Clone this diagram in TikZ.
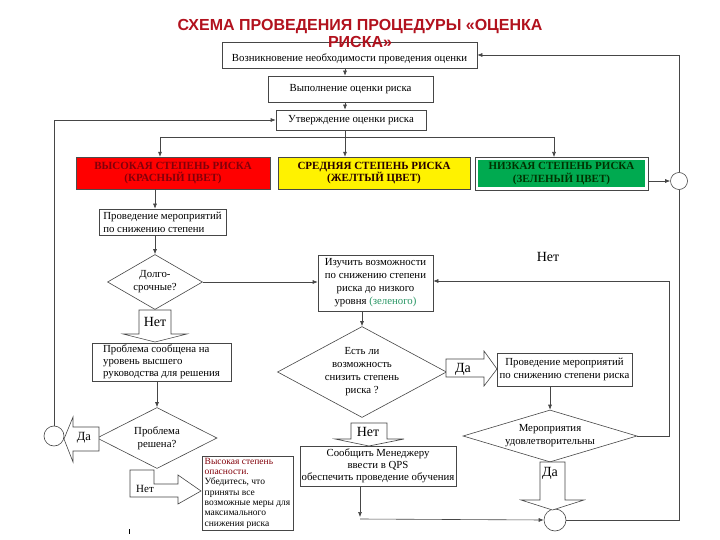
\documentclass[tikz,border=0pt]{standalone}
\usepackage{fontspec}
\setmainfont{Liberation Serif}
\newfontfamily\titlefont{Liberation Sans}
\usetikzlibrary{shapes.geometric,arrows.meta}

\begin{document}
\begin{tikzpicture}[x=1pt,y=-1pt,
  ln/.style={draw=linegray,line width=.6pt},
  arr/.style={ln,-{Latex[length=5pt,width=4pt]}},
  box/.style={ln,fill=white,inner sep=1.5pt,align=center,font=\fontsize{10.8}{13}\selectfont},
  lbox/.style={box,align=left},
  dia/.style={diamond,ln,fill=white,inner sep=0pt,align=center,font=\fontsize{10.8}{13}\selectfont},
  level/.style={inner sep=1pt,align=center,font=\fontsize{11}{12.5}\selectfont\bfseries},
  junc/.style={circle,ln,fill=white,inner sep=0pt},
  barrow/.style={ln,fill=white,line join=miter},
  big/.style={inner sep=0pt,font=\fontsize{14}{14}\selectfont}]
  \definecolor{linegray}{RGB}{70,70,70}%
  \definecolor{titlered}{RGB}{178,18,30}%
  \definecolor{wordgreen}{RGB}{0,170,80}%
  \definecolor{txtred}{RGB}{130,0,10}%
  \definecolor{txtgreen}{RGB}{40,150,100}%
  \useasboundingbox[fill=white] (0,0) rectangle (720,540);

  \node[box,text height=15pt,minimum width=255pt,minimum height=26pt] (b1) at (349.5,55) {Возникновение необходимости проведения оценки};
  \node[box,minimum width=165pt,minimum height=26pt] (b2) at (350.5,89) {Выполнение оценки риска};
  \node[box,minimum width=150pt,minimum height=20pt] (b3) at (351,120) {Утверждение оценки риска};

  \node[level,draw=black!70,fill=red,text=txtred,minimum width=194pt,minimum height=32pt] (red) at (173,173) {ВЫСОКАЯ СТЕПЕНЬ РИСКА\\(КРАСНЫЙ ЦВЕТ)};
  \node[level,draw=linegray,fill=yellow,text=black!85!red,minimum width=192pt,minimum height=32pt] (yel) at (374,173) {СРЕДНЯЯ СТЕПЕНЬ РИСКА\\(ЖЕЛТЫЙ ЦВЕТ)};
  \node[level,draw=white,line width=3pt,fill=wordgreen,text=black!80!green,minimum width=170pt,minimum height=30pt] (grn) at (561.5,173.5) {НИЗКАЯ СТЕПЕНЬ РИСКА\\(ЗЕЛЕНЫЙ ЦВЕТ)};
  \draw[linegray,line width=.6pt] (grn.north west) rectangle (grn.south east);

  \node[lbox,minimum width=127pt,minimum height=26pt] (b4) at (162.5,222) {Проведение мероприятий\\по снижению степени};
  \node[dia,aspect=1.73,minimum width=95pt,minimum height=55pt] (d1) at (155,282) {Долго-\\срочные?};
  \node[box,minimum width=115pt,minimum height=56pt] (b5) at (375.5,283) {Изучить возможности\\по снижению степени\\риска до низкого\\уровня \textcolor{txtgreen}{(зеленого)}};
  \node[lbox,font=\fontsize{10.8}{12}\selectfont,minimum width=139pt,minimum height=38pt] (b8) at (161.5,362) {Проблема сообщена на\\уровень высшего\\руководства для решения};
  \node[dia,aspect=1.86,minimum width=169pt,minimum height=91pt] (d2) at (362,372) {Есть ли\\возможность\\снизить степень\\риска ?};
  \node[box,minimum width=135pt,minimum height=33pt] (b6) at (564.5,369.5) {Проведение мероприятий\\по снижению степени риска};
  \node[dia,aspect=3.35,minimum width=174pt,minimum height=52pt] (d3) at (550,436) {Мероприятия\\удовлетворительны};
  \node[dia,aspect=1.97,minimum width=120pt,minimum height=61pt] (d4) at (157,438) {Проблема\\решена?};
  \node[box,font=\fontsize{10.8}{12}\selectfont,minimum width=156pt,minimum height=40pt] (b7) at (378,466) {Сообщить Менеджеру\\ввести в QPS\\обеспечить проведение обучения};
  \node[lbox,font=\fontsize{9.5}{10.3}\selectfont,minimum width=91pt,minimum height=74pt] (b9) at (247.5,493) {\textcolor{txtred}{Высокая степень}\\\textcolor{txtred}{опасности.}\\Убедитесь, что\\приняты все\\возможные меры для\\максимального\\снижения риска};

  \node[junc,minimum size=20pt] (cL) at (54,436) {};
  \node[junc,minimum size=17pt] (cR) at (679,181) {};
  \node[junc,minimum size=22pt] (cB) at (555,520) {};

  \coordinate (mid) at (345,0);
  \coordinate (jR) at (160,137);
  \coordinate (jY) at (345,137);
  \coordinate (jG) at (554,137);
  \coordinate (kN) at (669,281);
  \coordinate (kB) at (360,519);

  \draw[arr] (b1.south -| mid) -- (b2.north -| mid);
  \draw[arr] (b2.south -| mid) -- (b3.north -| mid);
  \draw[ln] (b3.south -| jY) -- (jY) (jR) -- (jG);
  \foreach \j/\n in {jR/red,jY/yel,jG/grn}
    \draw[arr] (\j) -- (\n.north -| \j);
  \draw[arr] (red.south -| d1) -- (b4.north -| d1);
  \draw[arr] (b4.south -| d1) -- (d1.north);
  \draw[arr] (d1.east) -- (b5.west |- d1.east);
  \draw[arr] (b5.south -| d2) -- (d2.north);
  \draw[arr] (b6.south -| d3) -- (d3.north);
  \draw[arr] (b8.south -| d4) -- (d4.north);
  \draw[arr] (d3.east) -| (kN) -- (b5.east |- kN);
  \draw[arr] (b7.south -| kB) -- ([yshift=2pt]kB);
  \draw[arr] (kB) -- (cB.west);
  \draw[ln] (cB.east) -| (cR.south);
  \draw[arr] (cR.north) |- (b1.east);
  \draw[arr] (grn.east |- cR) -- (cR.west);
  \draw[arr] (cL.north) |- (b3.west);

  \node[big] (no0) at (548,257) {Нет};

  \draw[barrow] (139,310) -- (171,310) -- (171,334) -- (187,334) -- (155,342) -- (123,334) -- (139,334) -- cycle;
  \node[big] (no1) at (155,322) {Нет};
  \draw[barrow] (446,359) -- (484,359) -- (484,351) -- (497,369) -- (484,386) -- (484,377) -- (446,377) -- cycle;
  \node[big] (yes1) at (463,369) {Да};
  \draw[barrow] (351,423) -- (387,423) -- (387,439) -- (404,439) -- (369,446) -- (335,439) -- (351,439) -- cycle;
  \node[big] (no2) at (368,432) {Нет};
  \draw[barrow] (540,462) -- (565,462) -- (565,500) -- (584,500) -- (552.5,510) -- (521,500) -- (540,500) -- cycle;
  \node[big] (yes2) at (550,473) {Да};
  \draw[barrow] (99,427) -- (73,427) -- (73,417) -- (64,439) -- (73,462) -- (73,451) -- (99,451) -- cycle;
  \node[big,font=\fontsize{12.5}{12.5}\selectfont] (yes3) at (84,438) {Да};
  \draw[barrow] (130,470) -- (154,470) -- (154,484) -- (178,484) -- (178,475) -- (201,491) -- (178,504) -- (178,497) -- (130,497) -- cycle;
  \node[big,font=\fontsize{11}{11}\selectfont] (no3) at (145,489) {Нет};

  \draw[black,line width=1pt] (129,529) -- (129,534);

  \node[align=center,text=titlered,font=\titlefont\bfseries\fontsize{16}{17}\selectfont] (title) at (360,33) {СХЕМА ПРОВЕДЕНИЯ ПРОЦЕДУРЫ «ОЦЕНКА\\РИСКА»};
\end{tikzpicture}
\end{document}
